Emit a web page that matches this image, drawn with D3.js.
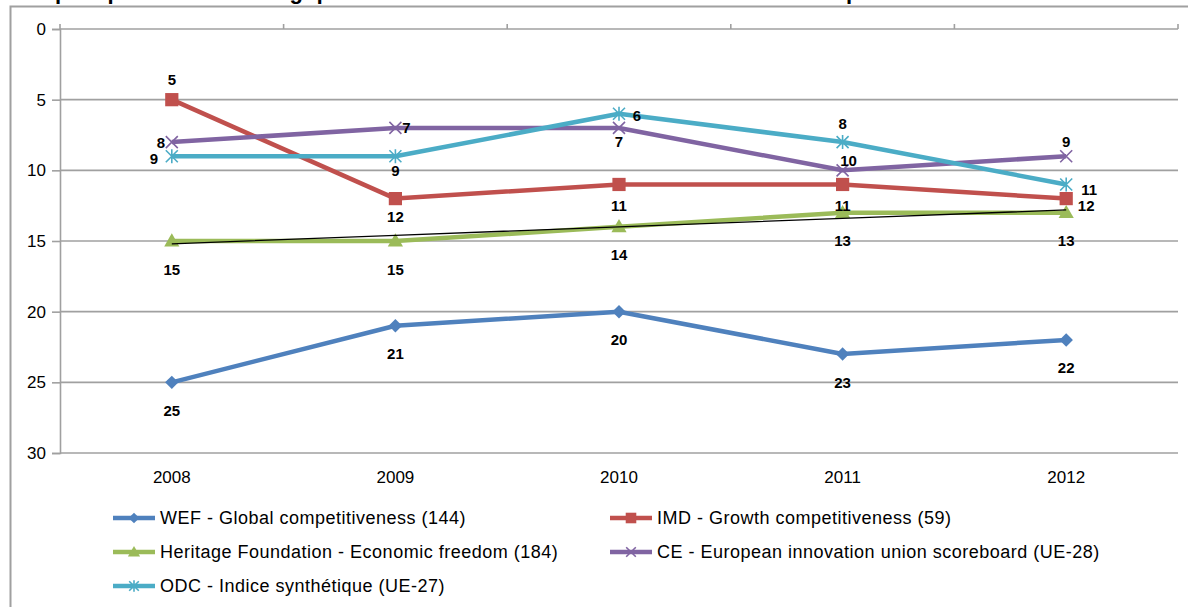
<!DOCTYPE html>
<html><head><meta charset="utf-8">
<script src="https://cdn.jsdelivr.net/npm/d3@7"></script>
<style>
html,body{margin:0;padding:0;background:#fff;overflow:hidden}
svg{display:block;font-family:Arial,"Liberation Sans",sans-serif}
</style></head>
<body>
<svg id="chart" width="1188" height="607"></svg>
<script>
// ---- data ----
const years = ["2008","2009","2010","2011","2012"];
const yTicks = [0,5,10,15,20,25,30];
const wefValues = [25,21,20,23,22];
const imdValues = [5,12,11,11,12];
const heritageValues = [15,15,14,13,13];
const ceValues = [8,7,7,10,9];
const odcValues = [9,9,6,8,11];
const seriesNames = [
  "WEF - Global competitiveness (144)",
  "IMD - Growth competitiveness (59)",
  "Heritage Foundation - Economic freedom (184)",
  "CE - European innovation union scoreboard (UE-28)",
  "ODC - Indice synthétique (UE-27)"
];
const titleText = "Comparé position de la Belgique dans les classements internationaux de la compétitivité";

// ---- styles (separate from data) ----
const colors = ["#4F81BD","#C0504D","#9BBB59","#8064A2","#4BACC6"];
const markerTypes = ["diamond","square","triangle","x","asterisk"];
// label placement per point: [dx, dy]
const labelPlacement = [
  [[0,28],[0,28],[0,28],[0,28],[0,28]],
  [[0,-20],[0,18],[0,21],[0,21],[20,7]],
  [[0,28],[0,28],[0,28],[0,28],[0,28]],
  [[-11,0],[11,0],[0,14],[6,-10],[0,-15]],
  [[-18,2],[0,14],[18,2],[0,-19],[23,5]]
];

const allValues = [wefValues, imdValues, heritageValues, ceValues, odcValues];
const series = seriesNames.map((n,i)=>({name:n, values:allValues[i], color:colors[i], marker:markerTypes[i], place:labelPlacement[i]}));

const svg = d3.select("#chart");
const mLeft = 60, mRight = 1178, mTop = 29, mBottom = 453;

// frame
svg.append("path").attr("d","M10.5,700 L10.5,6.5 L1200,6.5")
  .attr("fill","none").attr("stroke","#a0a0a0").attr("stroke-width",2);

// title (mostly cut off above the view, as in the reference)
svg.append("text").attr("x",6).attr("y",-1).attr("font-weight","bold")
  .attr("font-size",22).attr("fill","#000").text(titleText);

const x = d3.scaleBand().domain(years).range([mLeft,mRight]).paddingInner(0).paddingOuter(0);
const cx = d => x(d) + x.bandwidth()/2;
const y = d3.scaleLinear().domain([0,30]).range([mTop,mBottom]);

// gridlines
svg.append("g").selectAll("line").data(yTicks).join("line")
  .attr("x1",mLeft).attr("x2",mRight).attr("y1",d=>y(d)).attr("y2",d=>y(d))
  .attr("stroke","#a0a0a0").attr("stroke-width",1.6);

// y axis
const yAxis = svg.append("g").attr("transform",`translate(${mLeft},0)`)
  .call(d3.axisLeft(y).tickValues(yTicks).tickSize(8).tickPadding(6).tickFormat(d3.format("d")));
yAxis.selectAll("path").attr("stroke","#a0a0a0").attr("stroke-width",1.6);
yAxis.selectAll("line").attr("stroke","#a0a0a0").attr("stroke-width",1.6);
yAxis.selectAll("text").attr("font-size",17).attr("fill","#000").attr("font-family","Arial, 'Liberation Sans', sans-serif");

// x axis at value 0 (top) with boundary ticks pointing up
const boundaries = years.map(d=>x(d)).concat([mRight]);
svg.append("g").selectAll("line").data(boundaries).join("line")
  .attr("x1",d=>d).attr("x2",d=>d).attr("y1",mTop-5).attr("y2",mTop)
  .attr("stroke","#a0a0a0").attr("stroke-width",1.6);

// category labels at bottom
const xAxis = svg.append("g").attr("transform",`translate(0,${mBottom})`)
  .call(d3.axisBottom(x).tickSize(0).tickPadding(18));
xAxis.select(".domain").remove();
xAxis.selectAll("text").attr("font-size",17).attr("fill","#000").attr("font-family","Arial, 'Liberation Sans', sans-serif");

// marker drawing
function drawMarker(g, type, color, px, py, scale=1) {
  const s = scale;
  if (type==="diamond") {
    g.append("path").attr("d",d3.symbol(d3.symbolSquare, 90*s*s)())
      .attr("transform",`translate(${px},${py}) rotate(45)`).attr("fill",color);
  } else if (type==="square") {
    g.append("path").attr("d",d3.symbol(d3.symbolSquare, 175*s*s)())
      .attr("transform",`translate(${px},${py})`).attr("fill",color);
  } else if (type==="triangle") {
    g.append("path").attr("d",d3.symbol(d3.symbolTriangle, 100*s*s)())
      .attr("transform",`translate(${px},${py+1})`).attr("fill",color);
  } else if (type==="x") {
    const r=6*s;
    g.append("path").attr("d",`M${-r},${-r}L${r},${r}M${-r},${r}L${r},${-r}`)
      .attr("transform",`translate(${px},${py})`).attr("stroke",color).attr("stroke-width",1.6).attr("fill","none");
  } else if (type==="asterisk") {
    const r=6*s;
    g.append("path").attr("d",`M${-r},${-r}L${r},${r}M${-r},${r}L${r},${-r}M0,${-r-1}L0,${r+1}`)
      .attr("transform",`translate(${px},${py})`).attr("stroke",color).attr("stroke-width",1.6).attr("fill","none");
  }
}

const line = d3.line().x((d,i)=>cx(years[i])).y(d=>y(d));
const plot = svg.append("g");

// trend line for Heritage (least squares from data)
const hv = heritageValues;
const n = hv.length, mx = (n-1)/2, my = d3.mean(hv);
const slope = d3.sum(hv,(v,i)=>(i-mx)*(v-my)) / d3.sum(hv,(v,i)=>(i-mx)*(i-mx));
const trend = hv.map((v,i)=> my + slope*(i-mx));

series.forEach((s,si)=>{
  const g = plot.append("g");
  g.append("path").datum(s.values).attr("d",line).attr("fill","none")
    .attr("stroke",s.color).attr("stroke-width",4.5).attr("stroke-linejoin","round");
  s.values.forEach((v,i)=> drawMarker(g, s.marker, s.color, cx(years[i]), y(v)));
  if (si===2) {
    plot.append("path").datum(trend).attr("d",line).attr("fill","none")
      .attr("stroke","#000").attr("stroke-width",1.3);
  }
});

// data labels
const labels = svg.append("g");
series.forEach(s=>{
  s.values.forEach((v,i)=>{
    labels.append("text").attr("x",cx(years[i])+s.place[i][0]).attr("y",y(v)+s.place[i][1])
      .attr("text-anchor","middle").attr("dominant-baseline","central")
      .attr("font-size",15).attr("font-weight","bold").attr("fill","#000").text(v);
  });
});

// legend
const legendPos = [[113,518],[610,518],[113,552],[610,552],[113,586]];
const legend = svg.append("g");
series.forEach((s,i)=>{
  const [lx,ly] = legendPos[i];
  const g = legend.append("g");
  g.append("line").attr("x1",lx).attr("x2",lx+42).attr("y1",ly).attr("y2",ly)
    .attr("stroke",s.color).attr("stroke-width",4.5);
  drawMarker(g, s.marker, s.color, lx+21, ly, 0.8);
  g.append("text").attr("x",lx+47).attr("y",ly).attr("dominant-baseline","central")
    .attr("font-size",18).attr("letter-spacing","0.5px").attr("fill","#000").text(s.name);
});
</script>
</body></html>
